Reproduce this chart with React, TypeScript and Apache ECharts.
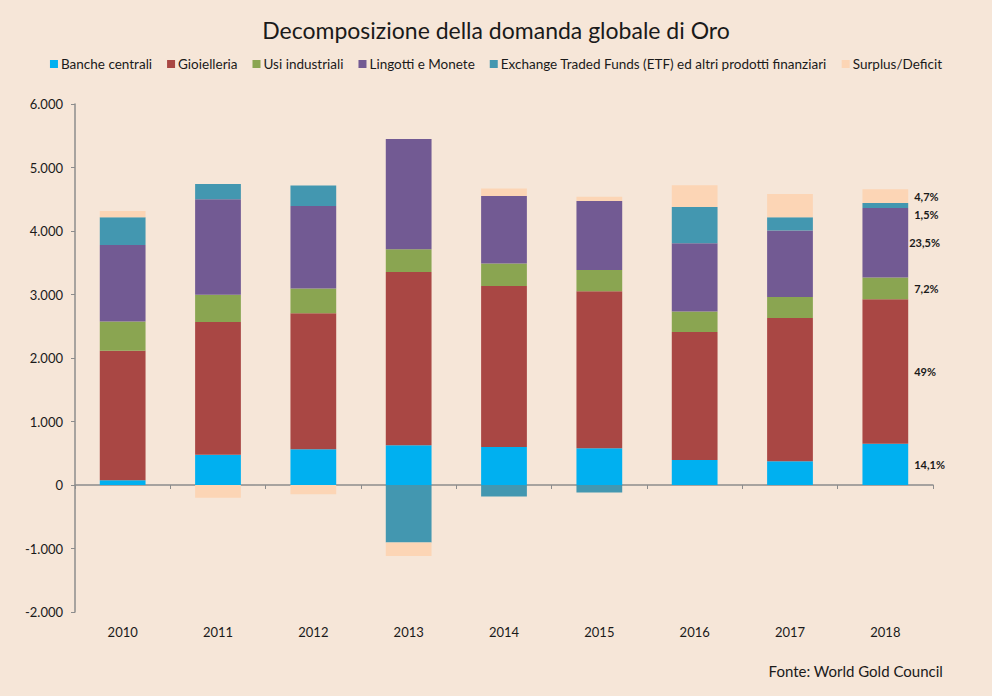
import React, { useEffect, useRef } from "react";
import * as echarts from "echarts";

const years = ["2010", "2011", "2012", "2013", "2014", "2015", "2016", "2017", "2018"];
const seriesNames = [
  "Banche centrali",
  "Gioielleria",
  "Usi industriali",
  "Lingotti e Monete",
  "Exchange Traded Funds (ETF) ed altri prodotti finanziari",
  "Surplus/Deficit",
];
const bancheCentrali = [74, 478, 562, 625, 598, 578, 394, 373, 651];
const gioielleria = [2042, 2089, 2142, 2729, 2536, 2472, 2016, 2257, 2273];
const usiIndustriali = [457, 431, 389, 358, 353, 336, 321, 331, 342];
const lingottiMonete = [1207, 1501, 1301, 1737, 1064, 1087, 1075, 1045, 1096];
const etf = [436, 241, 321, -907, -183, -120, 572, 210, 79];
const surplusDeficit = [99, -199, -146, -211, 117, 68, 342, 367, 216];
const shares2018 = ["14,1%", "49%", "7,2%", "23,5%", "1,5%", "4,7%"];
const colors = ["#00B0F0", "#A94744", "#8AA551", "#725A93", "#4397B0", "#FCD5B5"];
const yTicks = { min: -2000, max: 6000, interval: 1000 };

const labelOffsets = [[0, 0], [0, 0], [0, 0], [-5, 0], [0, 9], [0, 0]];

export default function App() {
  const ref = useRef<HTMLDivElement>(null);
  useEffect(() => {
    if (!ref.current) return;
    const chart = echarts.init(ref.current, null, { renderer: "svg" });
    const allData = [bancheCentrali, gioielleria, usiIndustriali, lingottiMonete, etf, surplusDeficit];
    const fmt = (v: number) => {
      const s = Math.abs(v).toString().replace(/\B(?=(\d{3})+(?!\d))/g, ".");
      return (v < 0 ? "-" : "") + s;
    };
    chart.setOption({
      animation: false,
      backgroundColor: "#F6E6D8",
      textStyle: { fontFamily: "Lato" },
      title: {
        text: "Decomposizione della domanda globale di Oro",
        left: "center",
        top: 13,
        textStyle: { fontFamily: "Lato", fontSize: 23, fontWeight: "normal", color: "#1a1a1a" },
      },
      legend: {
        top: 52,
        left: "center",
        itemWidth: 8,
        itemHeight: 8,
        itemGap: 15,
        icon: "rect",
        textStyle: { fontFamily: "Lato", fontSize: 13.5, color: "#1a1a1a", padding: [0, 0, 0, -2] },
        data: seriesNames,
      },
      grid: { left: 75, right: 59, top: 104, bottom: 84, containLabel: false },
      xAxis: [
        {
          type: "category",
          data: years,
          position: "bottom",
          axisLine: { onZero: true, lineStyle: { color: "#8c8c8c", width: 1.5 } },
          axisTick: { show: true, length: 4, lineStyle: { color: "#8c8c8c" } },
          axisLabel: { show: false },
        },
        {
          type: "category",
          data: years,
          position: "bottom",
          axisLine: { show: false, onZero: false },
          axisTick: { show: false },
          axisLabel: { show: true, margin: 13, fontFamily: "Lato", fontSize: 13, color: "#1a1a1a" },
        },
      ],
      yAxis: {
        type: "value",
        min: yTicks.min,
        max: yTicks.max,
        interval: yTicks.interval,
        splitLine: { show: false },
        axisLine: { show: true, lineStyle: { color: "#8c8c8c", width: 1.5 } },
        axisTick: { show: true, length: 4, lineStyle: { color: "#8c8c8c" } },
        axisLabel: { margin: 12, fontFamily: "Lato", fontSize: 13, color: "#1a1a1a", formatter: fmt },
      },
      series: seriesNames.map((name, i) => ({
        name,
        type: "bar",
        stack: "total",
        xAxisIndex: 0,
        barWidth: "48%",
        itemStyle: { color: colors[i] },
        data: allData[i].map((v, j) =>
          j === years.length - 1
            ? {
                value: v,
                label: {
                  show: true,
                  position: "right",
                  distance: 6,
                  offset: labelOffsets[i],
                  formatter: shares2018[i],
                  fontFamily: "Lato",
                  fontSize: 11,
                  fontWeight: "bold",
                  color: "#1a1a1a",
                },
              }
            : v
        ),
      })),
      graphic: [
        {
          type: "text",
          right: 49,
          top: 663,
          style: { text: "Fonte: World Gold Council", fontFamily: "Lato", fontSize: 15, fill: "#1a1a1a" },
        },
      ],
    });
    return () => chart.dispose();
  }, []);
  return <div ref={ref} style={{ position: "fixed", left: 0, top: 0, width: 992, height: 696 }} />;
}
